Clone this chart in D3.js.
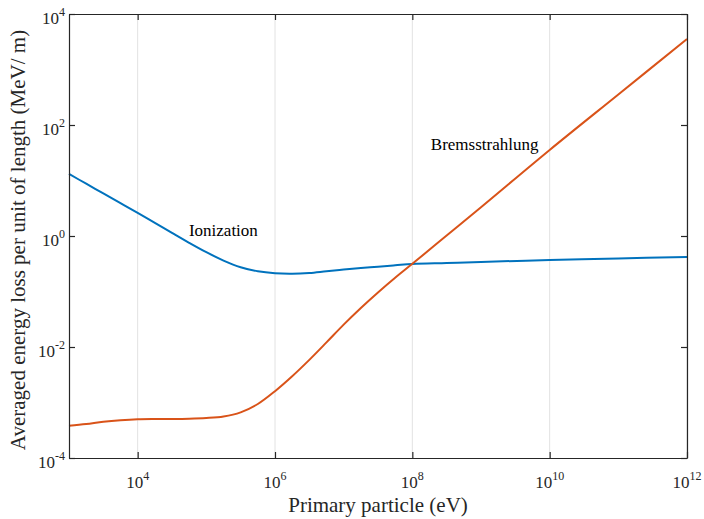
<!DOCTYPE html>
<html>
<head>
<meta charset="utf-8">
<script src="https://cdn.jsdelivr.net/npm/d3@7"></script>
<style>
  body { margin: 0; background: #fff; }
  svg { display: block; }
  svg text { font-family: "Liberation Serif", "Times New Roman", Times, "DejaVu Serif", serif; }
</style>
</head>
<body>
<div id="chart"></div>
<script>
// Values (energy in eV, loss in MeV/m), quarter decades up to 1e8
const energyEv = [1e3, 1.78e3, 3.16e3, 5.62e3, 1e4, 1.78e4, 3.16e4, 5.62e4, 1e5, 1.78e5,
                  3.16e5, 5.62e5, 1e6, 1.78e6, 3.16e6, 5.62e6, 1e7, 1.78e7, 3.16e7, 5.62e7,
                  1e8, 3.16e8, 1e9, 1e10, 1e11, 1e12];
const ionization = [13.1, 8.75, 5.85, 3.91, 2.61, 1.73, 1.14, 0.755, 0.511, 0.361,
                    0.274, 0.231, 0.213, 0.209, 0.216, 0.232, 0.248, 0.264, 0.280, 0.296,
                    0.313, 0.326, 0.34, 0.37, 0.394, 0.419];
const bremsstrahlung = [3.8e-4, 4.1e-4, 4.5e-4, 4.8e-4, 5.0e-4, 5.05e-4, 5.05e-4, 5.1e-4, 5.25e-4, 5.6e-4,
                        6.65e-4, 9.4e-4, 1.6e-3, 2.97e-3, 5.86e-3, 0.0121, 0.0253, 0.0505, 0.0962, 0.177,
                        0.315, 1.02, 3.3, 35.5, 355, 3550];
const xTicks = [1e4, 1e6, 1e8, 1e10, 1e12];
const yTicks = [1e-4, 1e-2, 1, 1e2, 1e4];

const width = 704, height = 519;
const margin = { top: 14, right: 17, bottom: 61, left: 69 };
const innerW = width - margin.left - margin.right;
const innerH = height - margin.top - margin.bottom;
const axisColor = "#262626";

const svg = d3.select("#chart")
    .append("svg")
        .attr("width", width)
        .attr("height", height);

const g = svg.append("g")
    .attr("transform", `translate(${margin.left},${margin.top})`);

const xScale = d3.scaleLog().domain([1e3, 1e12]).range([0, innerW]);
const yScale = d3.scaleLog().domain([1e-4, 1e4]).range([innerH, 0]);

// vertical grid
g.append("g")
    .selectAll("line")
    .data(xTicks)
    .join("line")
        .attr("x1", d => xScale(d))
        .attr("x2", d => xScale(d))
        .attr("y1", 0)
        .attr("y2", innerH)
        .attr("stroke", "#e2e2e2")
        .attr("stroke-width", 1);

// curves
const line = d3.line()
    .x(d => xScale(d[0]))
    .y(d => yScale(d[1]))
    .curve(d3.curveCatmullRom.alpha(0.5));

const series = [
    { values: ionization, color: "#0072BD" },
    { values: bremsstrahlung, color: "#D95319" }
];

g.selectAll(".series")
    .data(series)
    .join("path")
        .attr("class", "series")
        .attr("fill", "none")
        .attr("stroke", d => d.color)
        .attr("stroke-width", 2)
        .attr("d", d => line(energyEv.map((e, i) => [e, d.values[i]])));

// axes (box with inward ticks)
const axes = [
    { axis: d3.axisBottom(xScale), y: innerH, x: 0 },
    { axis: d3.axisTop(xScale), y: 0, x: 0 },
    { axis: d3.axisLeft(yScale), y: 0, x: 0 },
    { axis: d3.axisRight(yScale), y: 0, x: innerW }
];
axes.forEach((a, i) => {
    a.axis
        .tickValues(i < 2 ? xTicks : yTicks)
        .tickFormat(() => "")
        .tickSizeInner(-6)
        .tickSizeOuter(0);
    const ag = g.append("g")
        .attr("transform", `translate(${a.x},${a.y})`)
        .call(a.axis);
    ag.select(".domain").attr("stroke", axisColor).attr("stroke-width", 1.2);
    ag.selectAll(".tick line").attr("stroke", axisColor).attr("stroke-width", 1.2);
    ag.selectAll(".tick text").remove();
});

// tick labels as 10 with superscript exponent
const addPow = (sel, d) => {
    const exp = Math.round(Math.log10(d));
    sel.append("tspan").text("10");
    sel.append("tspan")
        .attr("dy", -8)
        .style("font-size", "12px")
        .text(exp);
};

g.append("g")
    .selectAll("text")
    .data(xTicks)
    .join("text")
        .attr("x", d => xScale(d))
        .attr("y", innerH + 30)
        .attr("text-anchor", "middle")
        .style("font-size", "17px")
        .style("fill", axisColor)
        .each(function(d) { addPow(d3.select(this), d); });

g.append("g")
    .selectAll("text")
    .data(yTicks)
    .join("text")
        .attr("x", -4)
        .attr("y", d => yScale(d) + 9.5)
        .attr("text-anchor", "end")
        .style("font-size", "17px")
        .style("fill", axisColor)
        .each(function(d) { addPow(d3.select(this), d); });

// axis titles
svg.append("text")
    .attr("x", margin.left + innerW / 2)
    .attr("y", 512)
    .attr("text-anchor", "middle")
    .style("font-size", "21px")
    .style("fill", axisColor)
    .text("Primary particle (eV)");

svg.append("text")
    .attr("transform", "translate(25,240) rotate(-90)")
    .attr("text-anchor", "middle")
    .style("font-size", "21px")
    .style("fill", axisColor)
    .text("Averaged energy loss per unit of length (MeV/ m)");

// curve annotations
const notes = [
    { text: "Ionization", x: 5.58e4, y: 1.0 },
    { text: "Bremsstrahlung", x: 1.86e8, y: 35.5 }
];
g.selectAll(".note")
    .data(notes)
    .join("text")
        .attr("class", "note")
        .attr("x", d => xScale(d.x))
        .attr("y", d => yScale(d.y))
        .style("font-size", "17px")
        .style("fill", "#000")
        .text(d => d.text);
</script>
</body>
</html>
